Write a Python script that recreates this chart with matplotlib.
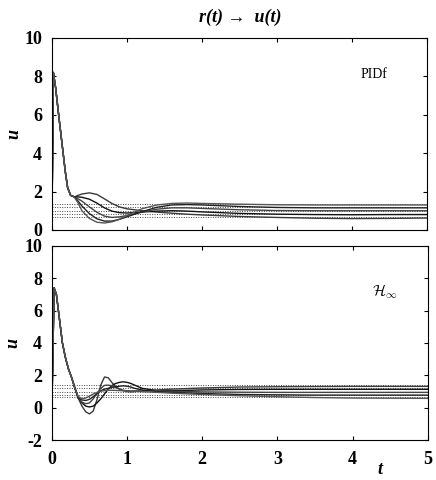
import numpy as np
import matplotlib.pyplot as plt

plt.rcParams['font.family'] = ['Liberation Serif', 'DejaVu Serif']
plt.rcParams['mathtext.fontset'] = 'cm'
plt.rcParams['axes.unicode_minus'] = False

# tramo inicial comun (pico del control)
t_ini = [0.0, 0.02, 0.05, 0.09, 0.12, 0.15, 0.18, 0.21, 0.25]
u_ini_pid = [0.0, 8.2, 7.4, 6.0, 5.0, 4.0, 3.0, 2.2, 1.8]
t_ini_h = [0.0, 0.03, 0.06, 0.1, 0.14, 0.18, 0.22, 0.26, 0.3]
u_ini_h = [0.0, 7.4, 7.0, 5.5, 4.0, 3.1, 2.4, 1.9, 1.3]

# PIDf: cinco curvas
t_pid = [0.3, 0.35, 0.4, 0.5, 0.6, 0.7, 0.8, 0.9, 1.0, 1.2, 1.4, 1.6, 1.8,
         2.0, 2.5, 3.0, 3.5, 4.0, 4.5, 5.0]
u_pid1 = [1.72, 1.8, 1.87, 1.93, 1.85, 1.62, 1.38, 1.2, 1.1, 1.0, 0.93, 0.87, 0.82,
          0.78, 0.7, 0.65, 0.61, 0.59, 0.6, 0.62]
u_pid2 = [1.72, 1.72, 1.7, 1.6, 1.4, 1.15, 0.98, 0.9, 0.88, 0.93, 0.98, 1.0, 0.98,
          0.94, 0.86, 0.82, 0.8, 0.79, 0.8, 0.8]
u_pid3 = [1.72, 1.62, 1.5, 1.2, 0.92, 0.72, 0.65, 0.68, 0.75, 0.92, 1.08, 1.15, 1.15,
          1.12, 1.05, 1.01, 1.0, 1.0, 1.0, 1.0]
u_pid4 = [1.72, 1.5, 1.25, 0.85, 0.58, 0.46, 0.46, 0.55, 0.68, 0.95, 1.18, 1.3, 1.32,
          1.3, 1.22, 1.17, 1.15, 1.15, 1.15, 1.15]
u_pid5 = [1.7, 1.4, 1.0, 0.6, 0.4, 0.36, 0.42, 0.55, 0.75, 1.1, 1.3, 1.38, 1.4,
          1.38, 1.34, 1.31, 1.3, 1.3, 1.3, 1.3]

# H-infinito: cinco curvas
t_h = [0.3, 0.35, 0.4, 0.45, 0.5, 0.55, 0.6, 0.65, 0.7, 0.75, 0.8, 0.85, 0.9, 0.95,
       1.0, 1.05, 1.1, 1.2, 1.4, 1.6, 2.0, 2.5, 3.0, 3.5, 4.0, 4.5, 5.0]
u_h1 = [1.3, 0.6, 0.1, -0.25, -0.38, -0.2, 0.5, 1.4, 1.9, 1.85, 1.55, 1.3, 1.15, 1.05,
        1.0, 0.98, 1.0, 1.05, 1.1, 1.15, 1.22, 1.28, 1.3, 1.31, 1.32, 1.32, 1.32]
u_h2 = [1.3, 0.6, 0.3, 0.1, 0.05, 0.1, 0.3, 0.55, 0.85, 1.15, 1.38, 1.5, 1.57, 1.6,
        1.57, 1.5, 1.4, 1.2, 1.05, 1.05, 1.1, 1.13, 1.14, 1.14, 1.14, 1.14, 1.14]
u_h3 = [1.3, 0.6, 0.35, 0.25, 0.3, 0.55, 0.9, 1.2, 1.38, 1.4, 1.35, 1.25, 1.15, 1.08,
        1.05, 1.04, 1.04, 1.05, 1.05, 1.02, 0.98, 0.96, 0.95, 0.95, 0.95, 0.95, 0.95]
u_h4 = [1.3, 0.62, 0.48, 0.45, 0.52, 0.68, 0.88, 1.05, 1.15, 1.2, 1.25, 1.3, 1.33, 1.35,
        1.33, 1.28, 1.2, 1.1, 1.0, 0.95, 0.88, 0.82, 0.8, 0.78, 0.78, 0.78, 0.78]
u_h5 = [1.3, 0.7, 0.55, 0.6, 0.72, 0.85, 0.95, 1.02, 1.06, 1.08, 1.08, 1.07, 1.06, 1.05,
        1.04, 1.03, 1.02, 1.0, 0.95, 0.9, 0.82, 0.74, 0.68, 0.63, 0.6, 0.59, 0.58]

# niveles de referencia (punteados)
ref_pid = [0.66, 0.82, 1.0, 1.17, 1.33]
ref_h = [0.64, 0.79, 0.99, 1.2, 1.4]

fig = plt.figure(figsize=(4.36, 4.80), dpi=100)
ax1 = fig.add_axes([0.119, 0.521, 0.860, 0.400])
ax2 = fig.add_axes([0.119, 0.083, 0.862, 0.405])

colores = ['#3a3a3a', '#111111', '#444444', '#222222', '#555555']


def panel(ax, t0, u0, t, curvas, refs):
    for r in refs:
        ax.axhline(r, color='#444444', lw=0.7, ls=(0, (1, 1.5)))
    for c, u in zip(colores, curvas):
        ax.plot(t0 + t, u0 + u, color=c, lw=1.0)
    ax.set_xlim(0, 5)
    ax.tick_params(direction='in', top=True, right=True, length=3, labelsize=13)
    ax.tick_params(axis='y', pad=7)
    ax.tick_params(axis='x', pad=8)
    for lab in ax.get_xticklabels() + ax.get_yticklabels():
        lab.set_fontweight('bold')
    ax.set_ylabel('u', style='italic', fontweight='bold', fontsize=13)
    ax.yaxis.set_label_coords(-0.08, 0.5)


ax1.set_ylim(0, 10)
ax1.set_yticks([0, 2, 4, 6, 8, 10])
ax2.set_ylim(-2, 10)
ax2.set_yticks([-2, 0, 2, 4, 6, 8, 10])
ax2.set_xticks([0, 1, 2, 3, 4, 5])

panel(ax1, t_ini, u_ini_pid, t_pid, [u_pid1, u_pid2, u_pid3, u_pid4, u_pid5], ref_pid)
panel(ax2, t_ini_h, u_ini_h, t_h, [u_h1, u_h2, u_h3, u_h4, u_h5], ref_h)
ax1.set_xticklabels([])

ax1.text(0.86, 0.79, 'PIDf', transform=ax1.transAxes, fontsize=10, ha='center')
ax2.text(0.885, 0.74, r'$\mathcal{H}_\infty$', transform=ax2.transAxes, fontsize=11,
         ha='center')

fig.text(0.872, 0.012, 't', style='italic', fontweight='bold', fontsize=13, ha='center')
fig.text(0.55, 0.955, 'r(t) \u2192  u(t)', style='italic', fontweight='bold',
         fontsize=13, ha='center')

fig.savefig('out.png', dpi=100)
